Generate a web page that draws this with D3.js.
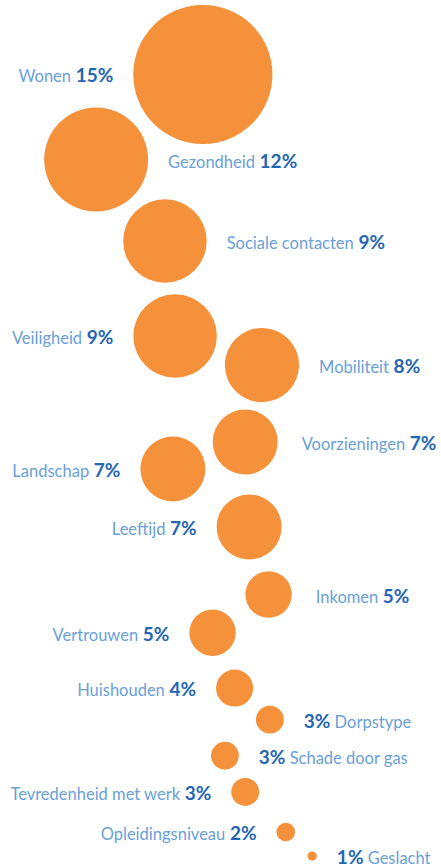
<!DOCTYPE html>
<html lang="nl">
<head>
    <meta charset="UTF-8">
    <title>Factoren</title>
    <script src="https://cdn.jsdelivr.net/npm/d3@7"></script>
    <style>
        body { margin: 0; background: #fff; }
        .lbl { font-family: Lato, "Open Sans", sans-serif; }
    </style>
</head>
<body>
    <script type="text/javascript">

        // categories and values
        var categories = ["Wonen", "Gezondheid", "Sociale contacten", "Veiligheid", "Mobiliteit",
            "Voorzieningen", "Landschap", "Leeftijd", "Inkomen", "Vertrouwen", "Huishouden",
            "Dorpstype", "Schade door gas", "Tevredenheid met werk", "Opleidingsniveau", "Geslacht"];
        // share
        var values = [15, 11.2, 9, 9, 8, 7, 7, 7, 5, 5, 4, 3, 3, 3, 2, 1];
        // printed percentages
        var pctLabels = ["15%", "12%", "9%", "9%", "8%", "7%", "7%", "7%", "5%", "5%", "4%",
            "3%", "3%", "3%", "2%", "1%"];

        // layout of the bubbles (percent of width / height)
        var layoutX = [46.0, 21.8, 37.4, 39.7, 59.4, 55.6, 39.2, 56.5, 60.9, 48.2, 53.2,
            61.2, 51.0, 55.6, 64.8, 70.8];
        var layoutY = [8.6, 18.42, 27.83, 38.8, 42.15, 51.04, 54.16, 60.85, 68.65, 73.06,
            79.45, 83.1, 87.27, 91.45, 96.07, 98.85];
        var sides = ["left", "right", "right", "left", "right", "right", "left", "left",
            "right", "left", "left", "right", "right", "left", "left", "right"];
        var pctFirst = ["Dorpstype", "Schade door gas", "Geslacht"];

        var w = 441;
        var h = 866;
        var gap = 20;

        var xScale = d3.scaleLinear().domain([0, 100]).range([0, w]);
        var yScale = d3.scaleLinear().domain([0, 100]).range([0, h]);
        var rScale = d3.scaleLinear().domain([0, 15]).range([0, 69.6]);

        var dataset = categories.map(function(c, i) {
            return { name: c, value: values[i], pct: pctLabels[i], side: sides[i] };
        });

        var svg = d3.select("body")
            .append("svg")
            .attr("width", w)
            .attr("height", h);

        svg.selectAll("circle")
            .data(dataset)
            .enter()
            .append("circle")
            .attr("cx", function(d, i) { return xScale(layoutX[i]); })
            .attr("cy", function(d, i) { return yScale(layoutY[i]); })
            .attr("r", function(d) { return rScale(d.value); })
            .attr("fill", "#f5913a");

        var labels = svg.selectAll("text.lbl")
            .data(dataset)
            .enter()
            .append("text")
            .attr("class", "lbl")
            .attr("x", function(d, i) {
                var r = rScale(d.value);
                // a couple of labels sit a bit further out
                var g = (d.name == "Voorzieningen" || d.name == "Inkomen") ? gap + 4 : gap;
                return d.side == "left" ? xScale(layoutX[i]) - r - g : xScale(layoutX[i]) + r + g;
            })
            .attr("y", function(d, i) { return yScale(layoutY[i]) + 8; })
            .attr("text-anchor", function(d) { return d.side == "left" ? "end" : "start"; });

        labels.each(function(d) {
            var t = d3.select(this);
            var parts = [{ s: d.name, b: false }, { s: d.pct, b: true }];
            if (pctFirst.indexOf(d.name) >= 0) parts.reverse();
            parts.forEach(function(p, k) {
                t.append("tspan")
                    .text((k == 1 ? "\u00a0" : "") + p.s)
                    .attr("font-size", p.b ? 19 : 16.5)
                    .attr("font-weight", p.b ? 700 : 400)
                    .attr("fill", p.b ? "#2566b4" : "#6a9fd8");
            });
        });

    </script>
</body>
</html>
